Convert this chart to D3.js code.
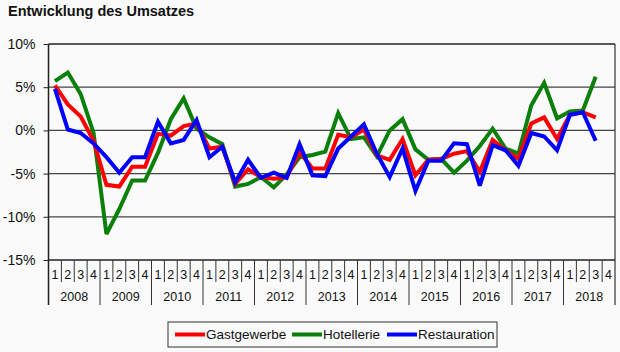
<!DOCTYPE html>
<html><head><meta charset="utf-8">
<script src="https://cdn.jsdelivr.net/npm/d3@7"></script>
<style>
html,body{margin:0;padding:0;background:#fafafa;}
text{font-family:"Liberation Sans",Arial,sans-serif;fill:#111;}
</style></head>
<body><svg id="c" width="620" height="352"></svg>
<script>
const years = ["2008","2009","2010","2011","2012","2013","2014","2015","2016","2017","2018"];
const quarterLabels = ["1","2","3","4"];
const yTicks = [10,5,0,-5,-10,-15];
const seriesNames = ["Gastgewerbe","Hotellerie","Restauration"];
const seriesColors = ["#ff0000","#0a800a","#0000ff"];
const gastgewerbe = [5.2,3.0,1.6,-1.2,-6.3,-6.5,-4.2,-4.2,-0.4,-0.6,0.5,0.8,-2.1,-1.9,-6.2,-4.5,-5.4,-5.6,-5.4,-2.5,-4.4,-4.4,-0.5,-0.8,0.1,-2.9,-3.4,-1.0,-5.2,-3.4,-3.3,-2.7,-2.4,-4.8,-1.1,-2.3,-3.3,0.8,1.5,-1.0,1.8,2.1,1.5];
const hotellerie = [5.7,6.7,4.2,-0.3,-12.0,-9.1,-5.8,-5.8,-2.6,1.3,3.7,0.2,-0.8,-1.6,-6.5,-6.2,-5.4,-6.6,-5.1,-3.1,-2.85,-2.45,2.0,-1.0,-0.8,-3.0,0.0,1.3,-2.2,-3.4,-3.3,-4.9,-3.5,-1.8,0.2,-2.1,-2.7,2.9,5.5,1.4,2.2,2.3,6.2];
const restauration = [4.8,0.1,-0.3,-1.5,-3.1,-4.9,-3.1,-3.1,1.0,-1.5,-1.1,1.2,-3.1,-1.9,-6.0,-3.4,-5.5,-4.9,-5.5,-1.6,-5.2,-5.3,-2.1,-0.7,0.7,-2.7,-5.4,-2.1,-7.0,-3.5,-3.5,-1.5,-1.6,-6.4,-1.7,-2.3,-4.1,-0.3,-0.7,-2.3,1.8,2.1,-1.2];
const allSeries = [gastgewerbe,hotellerie,restauration];

const svg = d3.select("#c");
const L = 48.5, R = 615, T = 44, B = 260;
const keys = [];
years.forEach(yv => quarterLabels.forEach(q => keys.push(yv+"Q"+q)));
const x = d3.scaleBand().domain(keys).range([L,R]).paddingInner(0).paddingOuter(0);
const y = d3.scaleLinear().domain([-15,10]).range([B,T]);

svg.append("rect").attr("width",620).attr("height",352).attr("fill","#fafafa");

// title
svg.append("text").attr("x",8).attr("y",16).attr("font-size",14.5).attr("font-weight","bold").text("Entwicklung des Umsatzes");

// gridlines
svg.append("g").selectAll("line").data(yTicks.filter(t=>t>-15&&t<10)).join("line")
  .attr("x1",L).attr("x2",R).attr("y1",d=>y(d)).attr("y2",d=>y(d))
  .attr("stroke","#444").attr("stroke-width",1.2);
// top and bottom frame
svg.append("line").attr("x1",L).attr("x2",R).attr("y1",y(10)).attr("y2",y(10)).attr("stroke","#222").attr("stroke-width",1.5);
svg.append("line").attr("x1",L).attr("x2",R).attr("y1",y(-15)).attr("y2",y(-15)).attr("stroke","#222").attr("stroke-width",1.5);

// y axis
const yAxis = d3.axisLeft(y).tickValues(yTicks).tickSize(5).tickFormat(d=>d+"%");
const ga = svg.append("g").attr("transform",`translate(${L},0)`).call(yAxis);
ga.select(".domain").remove();
ga.selectAll(".tick line").attr("stroke","#222");
ga.selectAll(".tick text").attr("font-size",14).attr("x",-13).attr("fill","#111").attr("font-family","Liberation Sans, Arial, sans-serif");
svg.append("line").attr("x1",L).attr("x2",L).attr("y1",T).attr("y2",305).attr("stroke","#222").attr("stroke-width",1.5);
// right border
svg.append("line").attr("x1",R).attr("x2",R).attr("y1",T).attr("y2",305).attr("stroke","#333").attr("stroke-width",1.2);

// x categories
const xg = svg.append("g");
keys.forEach((k,i) => {
  const q = i % 4;
  const xl = x(k);
  if (i>0) {
    xg.append("line").attr("x1",xl).attr("x2",xl).attr("y1",B).attr("y2", q===0 ? 305 : 282)
      .attr("stroke","#333").attr("stroke-width",1);
  }
  xg.append("text").attr("x",xl + x.bandwidth()/2).attr("y",279).attr("text-anchor","middle")
    .attr("font-size",12.5).text(quarterLabels[q]);
});
years.forEach(yv => {
  const x0 = x(yv+"Q1"), x1 = x(yv+"Q4") + x.bandwidth();
  xg.append("text").attr("x",(x0+x1)/2).attr("y",301).attr("text-anchor","middle").attr("font-size",12.5).text(yv);
});

// lines
const line = d3.line().x((d,i)=>x(keys[i])+x.bandwidth()/2).y(d=>y(d));
[1,0,2].forEach(si => {
  svg.append("path").datum(allSeries[si]).attr("d",line).attr("fill","none")
    .attr("stroke",seriesColors[si]).attr("stroke-width",4).attr("stroke-linejoin","miter").attr("stroke-miterlimit",3);
});

// legend
const lg = svg.append("g");
lg.append("rect").attr("x",168).attr("y",322).attr("width",329).attr("height",25).attr("fill","#fafafa").attr("stroke","#333").attr("stroke-width",1);
const legX = [175,292,387];
seriesNames.forEach((n,i) => {
  lg.append("line").attr("x1",legX[i]).attr("x2",legX[i]+30).attr("y1",334.5).attr("y2",334.5).attr("stroke",seriesColors[i]).attr("stroke-width",4);
  lg.append("text").attr("x",legX[i]+31).attr("y",339).attr("font-size",13.5).text(n);
});
</script></body></html>
